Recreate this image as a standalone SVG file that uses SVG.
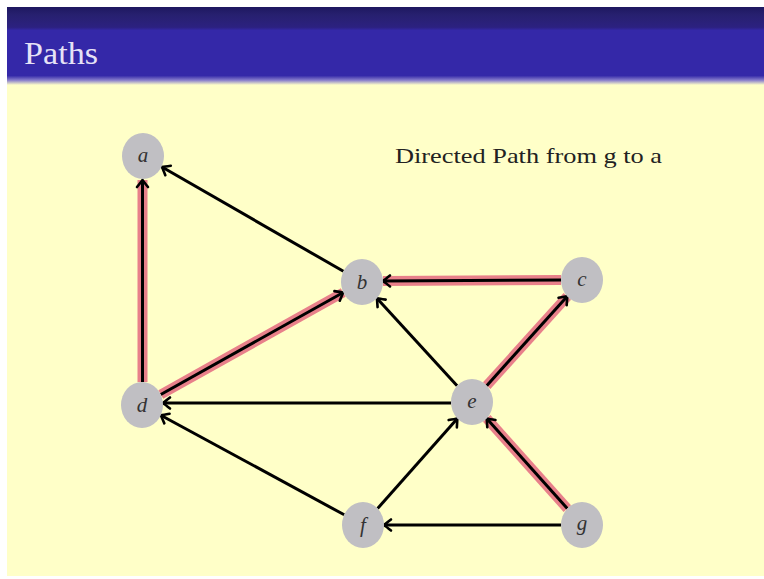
<svg xmlns="http://www.w3.org/2000/svg" width="764" height="579" viewBox="0 0 764 579">
<defs>
<linearGradient id="hdr" x1="0" y1="0" x2="0" y2="1">
<stop offset="0" stop-color="#1e1860"/>
<stop offset="0.1" stop-color="#27206f"/>
<stop offset="0.26" stop-color="#2c2180"/>
<stop offset="0.3" stop-color="#3428a8"/>
<stop offset="0.88" stop-color="#3428a8"/>
<stop offset="0.94" stop-color="#8a80cc"/>
<stop offset="1" stop-color="#ffffc8"/>
</linearGradient>
<marker id="ah" markerUnits="userSpaceOnUse" markerWidth="20" markerHeight="20" viewBox="-10 -10 20 20" refX="0" refY="0" orient="auto">
<path d="M -7 -5.5 Q -2 -1.5 0 0 Q -2 1.5 -7 5.5" fill="none" stroke="#000" stroke-width="2.6" stroke-linecap="round"/>
</marker>
<style>
.node ellipse{fill:#c0bfc3;}
.node text{font-family:"Liberation Serif","DejaVu Serif",serif;font-style:italic;font-size:21px;fill:#333;text-anchor:middle;}
.hl{stroke:#e8808a;stroke-width:10;fill:none;}
.e{stroke:#000;stroke-width:3;fill:none;marker-end:url(#ah);}
</style>
</defs>
<rect x="0" y="0" width="764" height="579" fill="#fff"/>
<rect x="7" y="84" width="757" height="492" fill="#ffffc8"/>
<rect x="7" y="7" width="757" height="78" fill="url(#hdr)"/>
<text x="24" y="64" font-family="Liberation Serif, DejaVu Serif, serif" font-size="31" fill="#e6e2f6" textLength="74" lengthAdjust="spacingAndGlyphs">Paths</text>
<text x="395" y="163" font-family="Liberation Serif, DejaVu Serif, serif" font-size="22" fill="#222" textLength="267" lengthAdjust="spacingAndGlyphs">Directed Path from g to a</text>
<g id="connectors">
<line class="hl" x1="142.5" y1="382" x2="142.5" y2="180"/>
<line class="hl" x1="160.8" y1="394.5" x2="343.2" y2="292.5"/>
<line class="hl" x1="561" y1="280" x2="383" y2="281"/>
<line class="hl" x1="486.7" y1="385.7" x2="567.3" y2="296.3"/>
<line class="hl" x1="567.3" y1="508.6" x2="486.7" y2="418.4"/>
<line class="e" x1="343.4" y1="271.3" x2="162" y2="167"/>
<line class="e" x1="142.5" y1="382" x2="142.5" y2="180"/>
<line class="e" x1="160.8" y1="394.5" x2="343.2" y2="292.5"/>
<line class="e" x1="561" y1="280" x2="383" y2="281"/>
<line class="e" x1="486.7" y1="385.7" x2="567.3" y2="296.3"/>
<line class="e" x1="457.1" y1="385.8" x2="376.9" y2="298.2"/>
<line class="e" x1="451" y1="403" x2="163" y2="403"/>
<line class="e" x1="344.2" y1="514.8" x2="160.8" y2="415.2"/>
<line class="e" x1="377.6" y1="508.5" x2="457.4" y2="418.5"/>
<line class="e" x1="567.3" y1="508.6" x2="486.7" y2="418.4"/>
<line class="e" x1="561" y1="525" x2="384" y2="525"/>
</g>
<g id="a" class="node"><ellipse cx="143" cy="156" rx="21" ry="23"/><text x="143" y="162">a</text></g>
<g id="b" class="node"><ellipse cx="362" cy="282" rx="21" ry="23"/><text x="362" y="289">b</text></g>
<g id="c" class="node"><ellipse cx="582" cy="280" rx="21" ry="23"/><text x="582" y="286">c</text></g>
<g id="d" class="node"><ellipse cx="142" cy="405" rx="21" ry="23"/><text x="142" y="412">d</text></g>
<g id="e" class="node"><ellipse cx="472" cy="402" rx="21" ry="23"/><text x="472" y="408">e</text></g>
<g id="f" class="node"><ellipse cx="363" cy="525" rx="21" ry="23"/><text x="363" y="532">f</text></g>
<g id="g" class="node"><ellipse cx="582" cy="525" rx="21" ry="23"/><text x="582" y="530">g</text></g>
</svg>
